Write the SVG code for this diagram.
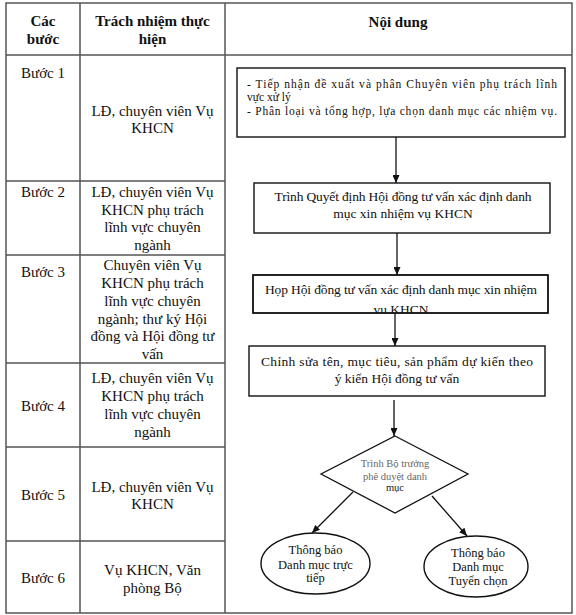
<svg xmlns="http://www.w3.org/2000/svg" width="576" height="615" viewBox="0 0 576 615">
<style>
.grid{stroke:#555;stroke-width:1.5;fill:none}
.t{font-family:"Liberation Serif","Times New Roman",serif;font-size:15px;fill:#111;text-anchor:middle}
.h{font-weight:bold}
.f{font-family:"Liberation Serif","Times New Roman",serif;font-size:13.5px;fill:#111}
.s{font-size:11.5px}
.c{text-anchor:middle}
.box{fill:#fff;stroke:#111;stroke-width:1.4}
.d{font-family:"Liberation Serif","Times New Roman",serif;font-size:10.5px;fill:#666;text-anchor:middle}
.e{font-family:"Liberation Serif","Times New Roman",serif;font-size:12.5px;fill:#111;text-anchor:middle}
.ln{stroke:#111;stroke-width:1.3;fill:none;marker-end:url(#ah)}
</style>
<defs>
<marker id="ah" markerUnits="userSpaceOnUse" markerWidth="8" markerHeight="7" refX="8" refY="3.5" orient="auto">
<path d="M0,0 L8,3.5 L0,7 z" fill="#111"/>
</marker>
<clipPath id="cb3"><rect x="253" y="275" width="295" height="38"/></clipPath>
</defs>
<rect width="576" height="615" fill="#fff"/>
<g id="table">
<rect class="grid" x="6" y="3" width="566" height="610"/>
<line class="grid" x1="80" y1="3" x2="80" y2="613"/>
<line class="grid" x1="225" y1="3" x2="225" y2="613"/>
<line class="grid" x1="6" y1="55" x2="572" y2="55"/>
<line class="grid" x1="6" y1="181" x2="225" y2="181"/>
<line class="grid" x1="6" y1="255" x2="225" y2="255"/>
<line class="grid" x1="6" y1="363" x2="225" y2="363"/>
<line class="grid" x1="6" y1="447" x2="225" y2="447"/>
<line class="grid" x1="6" y1="541" x2="225" y2="541"/>
</g>
<g id="header">
<text class="t h" x="43" y="26">Các</text>
<text class="t h" x="43" y="44">bước</text>
<text class="t h" x="152.5" y="26">Trách nhiệm thực</text>
<text class="t h" x="152.5" y="44">hiện</text>
<text class="t h" x="398" y="27">Nội dung</text>
</g>
<g id="row1">
<text class="t" x="43" y="78">Bước 1</text>
<text class="t" x="152.5" y="116">LĐ, chuyên viên Vụ</text>
<text class="t" x="152.5" y="133">KHCN</text>
</g>
<g id="row2">
<text class="t" x="43" y="197">Bước 2</text>
<text class="t" x="152.5" y="197">LĐ, chuyên viên Vụ</text>
<text class="t" x="152.5" y="214.5">KHCN phụ trách</text>
<text class="t" x="152.5" y="232">lĩnh vực chuyên</text>
<text class="t" x="152.5" y="249.5">ngành</text>
</g>
<g id="row3">
<text class="t" x="43" y="277">Bước 3</text>
<text class="t" x="152.5" y="270">Chuyên viên Vụ</text>
<text class="t" x="152.5" y="288">KHCN phụ trách</text>
<text class="t" x="152.5" y="306">lĩnh vực chuyên</text>
<text class="t" x="152.5" y="323.5">ngành; thư ký Hội</text>
<text class="t" x="152.5" y="341">đồng và Hội đồng tư</text>
<text class="t" x="152.5" y="358.5">vấn</text>
</g>
<g id="row4">
<text class="t" x="43" y="411">Bước 4</text>
<text class="t" x="152.5" y="383">LĐ, chuyên viên Vụ</text>
<text class="t" x="152.5" y="401">KHCN phụ trách</text>
<text class="t" x="152.5" y="419">lĩnh vực chuyên</text>
<text class="t" x="152.5" y="437">ngành</text>
</g>
<g id="row5">
<text class="t" x="43" y="500">Bước 5</text>
<text class="t" x="152.5" y="492">LĐ, chuyên viên Vụ</text>
<text class="t" x="152.5" y="509">KHCN</text>
</g>
<g id="row6">
<text class="t" x="43" y="583">Bước 6</text>
<text class="t" x="152.5" y="575">Vụ KHCN, Văn</text>
<text class="t" x="152.5" y="593">phòng Bộ</text>
</g>
<g id="connectors">
<line class="ln" x1="396" y1="137" x2="396" y2="183"/>
<line class="ln" x1="397" y1="233" x2="397" y2="275"/>
<line class="ln" x1="395" y1="313" x2="395" y2="346"/>
<line class="ln" x1="394" y1="400" x2="394" y2="436"/>
<line class="ln" x1="353" y1="492" x2="312" y2="533"/>
<line class="ln" x1="432" y1="496" x2="467" y2="536"/>
</g>
<g id="box1">
<rect class="box" x="237" y="68" width="328" height="69"/>
<text class="f s" x="247" y="87.5" textLength="310">- Tiếp nhận đề xuất và phân Chuyên viên phụ trách lĩnh</text>
<text class="f s" x="247" y="101">vực xử lý</text>
<text class="f s" x="247" y="114.5" textLength="310">- Phân loại và tổng hợp, lựa chọn danh mục các nhiệm vụ.</text>
</g>
<g id="box2">
<rect class="box" x="254" y="183" width="296" height="50"/>
<text class="f c" x="403" y="200.5" textLength="257">Trình Quyết định Hội đồng tư vấn xác định danh</text>
<text class="f c" x="403" y="217.5">mục xin nhiệm vụ KHCN</text>
</g>
<g id="box3">
<rect class="box" x="253" y="275" width="295" height="38"/>
<g clip-path="url(#cb3)">
<text class="f c" x="401" y="293.5" textLength="272">Họp Hội đồng tư vấn xác định danh mục xin nhiệm</text>
<text class="f c" x="401" y="314">vụ KHCN</text>
</g>
<rect x="253" y="275" width="295" height="38" fill="none" stroke="#111" stroke-width="1.4"/>
</g>
<g id="box4">
<rect class="box" x="249" y="346" width="296" height="50"/>
<text class="f c" x="397" y="365.5" textLength="272">Chỉnh sửa tên, mục tiêu, sản phẩm dự kiến theo</text>
<text class="f c" x="397" y="382.5">ý kiến Hội đồng tư vấn</text>
</g>
<g id="decision">
<polygon points="395,436 468,474 395,513 321,474" fill="#fff" stroke="#111" stroke-width="1.3"/>
<text class="d" x="395" y="466.5">Trình Bộ trưởng</text>
<text class="d" x="395" y="479.5">phê duyệt danh</text>
<text class="d" x="395" y="491" style="fill:#222">mục</text>
</g>
<g id="end1">
<ellipse cx="315.5" cy="563.5" rx="54.5" ry="30.5" fill="#fff" stroke="#111" stroke-width="1.4"/>
<text class="e" x="315.5" y="554">Thông báo</text>
<text class="e" x="315.5" y="568.5">Danh mục trực</text>
<text class="e" x="315.5" y="582">tiếp</text>
</g>
<g id="end2">
<ellipse cx="476" cy="566.5" rx="52" ry="30.5" fill="#fff" stroke="#111" stroke-width="1.4"/>
<text class="e" x="478" y="557">Thông báo</text>
<text class="e" x="478" y="571">Danh mục</text>
<text class="e" x="478" y="584.5">Tuyển chọn</text>
</g>
</svg>
